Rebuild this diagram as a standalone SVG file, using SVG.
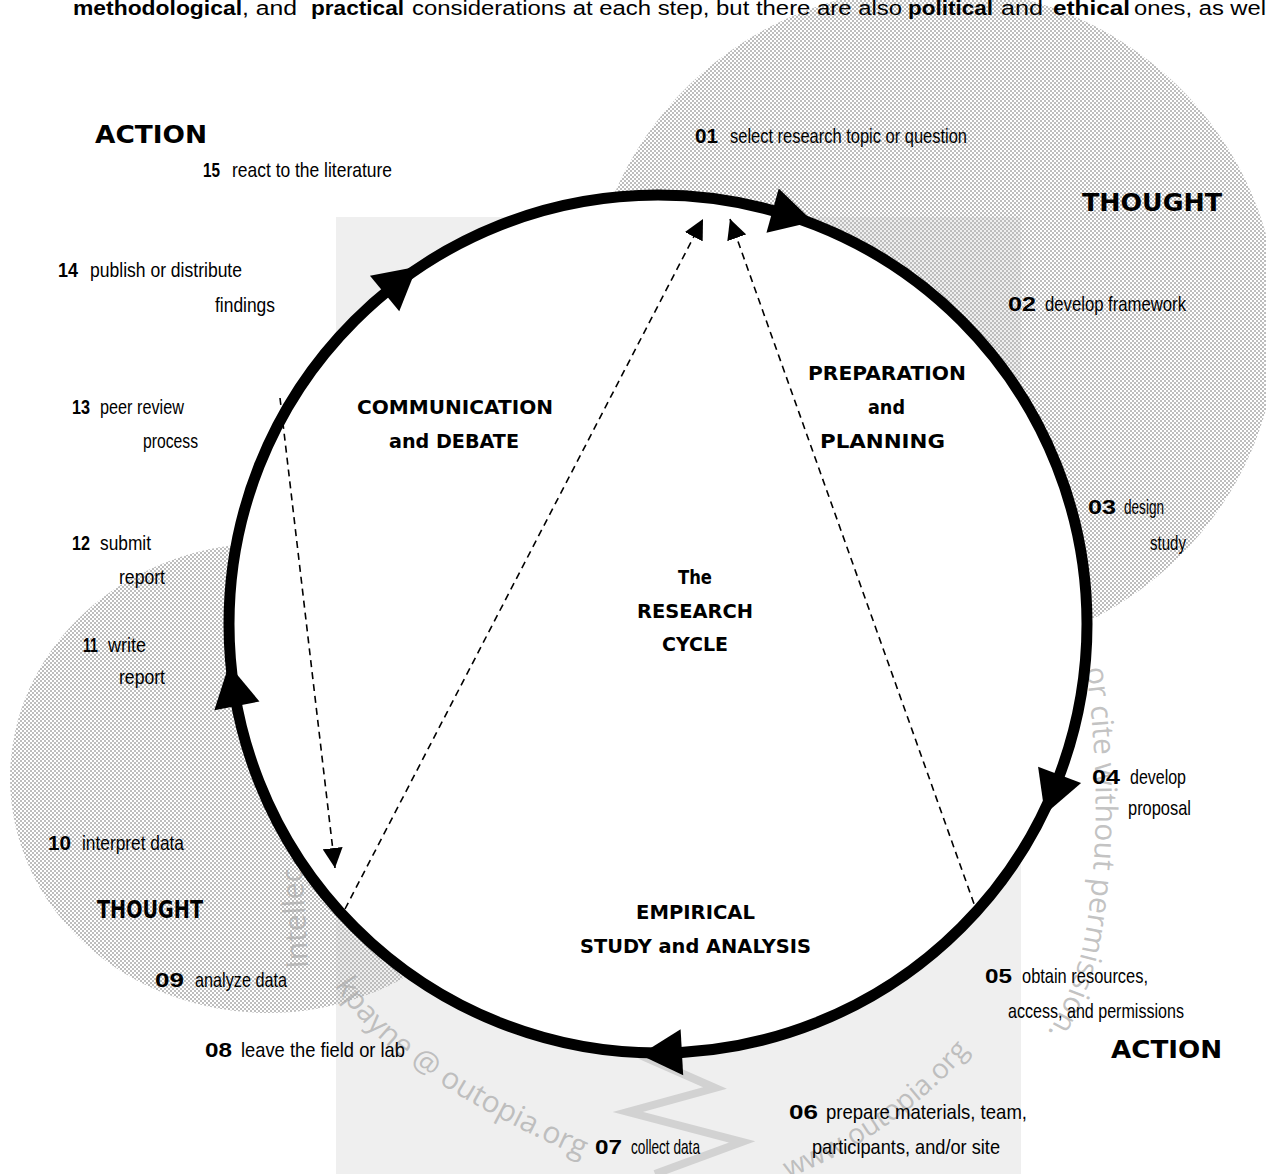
<svg xmlns="http://www.w3.org/2000/svg" width="1266" height="1174" viewBox="0 0 1266 1174">
<defs>
<style>
.lb{font-family:"Liberation Sans Narrow","Liberation Sans",Arial,sans-serif;font-size:21px;fill:#000}
.nb{font-weight:bold}
.hd{font-family:"DejaVu Sans",Verdana,sans-serif;font-size:19px;font-weight:bold;fill:#000}
.big{font-family:"DejaVu Sans",Verdana,sans-serif;font-size:24px;font-weight:bold;fill:#000}
.top{font-family:"Liberation Sans Narrow","Liberation Sans",Arial,sans-serif;font-size:20px;fill:#000}
.b{font-weight:bold}
.wm{font-family:"Open Sans","Liberation Sans",sans-serif;font-size:30px;fill:#a8a8a8;fill-opacity:0.7}
.dash{fill:none;stroke:#000;stroke-width:1.6;stroke-dasharray:7 5}
</style>
<pattern id="chk" width="4" height="4" patternUnits="userSpaceOnUse">
<rect width="2" height="2" fill="#bdbdbd"/>
<rect x="2" y="2" width="2" height="2" fill="#bdbdbd"/>
</pattern>
<path id="bigHead" d="M42,0 L0,-23 L0,23 Z" fill="#000"/>
<marker id="dh" markerWidth="20" markerHeight="20" viewBox="0 0 20 20" refX="20" refY="10" orient="auto" markerUnits="userSpaceOnUse">
<path d="M0,0 L20,10 L0,20 Z" fill="#000"/>
</marker>
<path id="wmA" d="M1086,668 C1098,760 1100,850 1085,935 C1075,990 1050,1040 1010,1080"/>
<path id="wmB" d="M308,968 C306,930 304,890 300,845"/>
<path id="wmC" d="M335,985 C370,1045 450,1100 598,1165"/>
<path id="wmD" d="M788,1178 C860,1150 935,1100 990,1025"/>
</defs>

<rect width="1266" height="1174" fill="#fff"/>

<g id="background">
<rect x="336" y="217" width="685" height="957" fill="#efefef"/>
<ellipse cx="933" cy="322" rx="345" ry="335" fill="url(#chk)"/>
<ellipse cx="268" cy="778" rx="258" ry="235" fill="url(#chk)"/>
<polyline points="640,1055 715,1088 628,1112 742,1142 655,1174" fill="none" stroke="#d2d2d2" stroke-width="8"/>
</g>

<g id="watermark">
<text class="wm"><textPath href="#wmA">or cite without permission.</textPath></text>
<text class="wm"><textPath href="#wmB">Intellec</textPath></text>
<text class="wm"><textPath href="#wmC">kpayne @ outopia.org</textPath></text>
<text class="wm" style="font-size:28px"><textPath href="#wmD">www.outopia.org</textPath></text>
</g>

<g id="top-text">
<text class="top" y="15"><tspan class="b" x="73" textLength="169" lengthAdjust="spacingAndGlyphs">methodological</tspan><tspan x="242" textLength="55" lengthAdjust="spacingAndGlyphs">, and</tspan><tspan class="b" x="311" textLength="93" lengthAdjust="spacingAndGlyphs">practical</tspan><tspan x="412" textLength="490" lengthAdjust="spacingAndGlyphs">considerations at each step, but there are also</tspan><tspan class="b" x="908" textLength="85" lengthAdjust="spacingAndGlyphs">political</tspan><tspan x="1001" textLength="42" lengthAdjust="spacingAndGlyphs">and</tspan><tspan class="b" x="1053" textLength="77" lengthAdjust="spacingAndGlyphs">ethical</tspan><tspan x="1134" textLength="132" lengthAdjust="spacingAndGlyphs">ones, as wel</tspan></text>
</g>

<g id="cycle">
<circle cx="658" cy="624" r="429" fill="#fff" stroke="#000" stroke-width="11"/>
<use href="#bigHead" transform="translate(772.6,210.6) rotate(15.5)"/>
<use href="#bigHead" transform="translate(1059.6,774.9) rotate(110.6)"/>
<use href="#bigHead" transform="translate(681.9,1052.3) rotate(176.8)"/>
<use href="#bigHead" transform="translate(236.9,705.9) rotate(259)"/>
<use href="#bigHead" transform="translate(384.6,293.5) rotate(320.4)"/>
</g>

<g id="connectors">
<line class="dash" x1="280" y1="398" x2="335" y2="868" marker-end="url(#dh)"/>
<line class="dash" x1="345" y1="909" x2="703" y2="219" marker-end="url(#dh)"/>
<line class="dash" x1="978" y1="915" x2="730" y2="219" marker-end="url(#dh)"/>
</g>

<g id="headings">
<text class="big" x="95" y="143" textLength="112" lengthAdjust="spacingAndGlyphs">ACTION</text>
<text class="big" x="1082" y="211" textLength="140" lengthAdjust="spacingAndGlyphs">THOUGHT</text>
<text class="big" x="97" y="918" textLength="106" lengthAdjust="spacingAndGlyphs">THOUGHT</text>
<text class="big" x="1111" y="1058" textLength="111" lengthAdjust="spacingAndGlyphs">ACTION</text>
</g>

<g id="phase-communication">
<text class="hd" x="357" y="414" textLength="196" lengthAdjust="spacingAndGlyphs">COMMUNICATION</text>
<text class="hd" x="389" y="448" textLength="130" lengthAdjust="spacingAndGlyphs">and DEBATE</text>
</g>
<g id="phase-preparation">
<text class="hd" x="808" y="380" textLength="158" lengthAdjust="spacingAndGlyphs">PREPARATION</text>
<text class="hd" x="868" y="414" textLength="37" lengthAdjust="spacingAndGlyphs">and</text>
<text class="hd" x="820" y="448" textLength="125" lengthAdjust="spacingAndGlyphs">PLANNING</text>
</g>
<g id="center-title">
<text class="hd" x="678" y="584" textLength="34" lengthAdjust="spacingAndGlyphs">The</text>
<text class="hd" x="637" y="618" textLength="116" lengthAdjust="spacingAndGlyphs">RESEARCH</text>
<text class="hd" x="662" y="651" textLength="66" lengthAdjust="spacingAndGlyphs">CYCLE</text>
</g>
<g id="phase-empirical">
<text class="hd" x="636" y="919" textLength="119" lengthAdjust="spacingAndGlyphs">EMPIRICAL</text>
<text class="hd" x="580" y="953" textLength="231" lengthAdjust="spacingAndGlyphs">STUDY and ANALYSIS</text>
</g>

<g id="step-01">
<text class="lb" y="143"><tspan class="nb" x="695" textLength="23" lengthAdjust="spacingAndGlyphs">01</tspan><tspan x="730" textLength="237" lengthAdjust="spacingAndGlyphs">select research topic or question</tspan></text>
</g>
<g id="step-02">
<text class="lb" y="311"><tspan class="nb" x="1008" textLength="28" lengthAdjust="spacingAndGlyphs">02</tspan><tspan x="1045" textLength="141" lengthAdjust="spacingAndGlyphs">develop framework</tspan></text>
</g>
<g id="step-03">
<text class="lb" y="514"><tspan class="nb" x="1088" textLength="28" lengthAdjust="spacingAndGlyphs">03</tspan><tspan x="1124" textLength="40" lengthAdjust="spacingAndGlyphs">design</tspan></text>
<text class="lb" x="1150" y="550" textLength="36" lengthAdjust="spacingAndGlyphs">study</text>
</g>
<g id="step-04">
<text class="lb" y="784"><tspan class="nb" x="1092" textLength="28" lengthAdjust="spacingAndGlyphs">04</tspan><tspan x="1130" textLength="56" lengthAdjust="spacingAndGlyphs">develop</tspan></text>
<text class="lb" x="1128" y="815" textLength="63" lengthAdjust="spacingAndGlyphs">proposal</text>
</g>
<g id="step-05">
<text class="lb" y="983"><tspan class="nb" x="985" textLength="27" lengthAdjust="spacingAndGlyphs">05</tspan><tspan x="1022" textLength="126" lengthAdjust="spacingAndGlyphs">obtain resources,</tspan></text>
<text class="lb" x="1008" y="1018" textLength="176" lengthAdjust="spacingAndGlyphs">access, and permissions</text>
</g>
<g id="step-06">
<text class="lb" y="1119"><tspan class="nb" x="789" textLength="29" lengthAdjust="spacingAndGlyphs">06</tspan><tspan x="826" textLength="201" lengthAdjust="spacingAndGlyphs">prepare materials, team,</tspan></text>
<text class="lb" x="812" y="1154" textLength="188" lengthAdjust="spacingAndGlyphs">participants, and/or site</text>
</g>
<g id="step-07">
<text class="lb" y="1154"><tspan class="nb" x="595" textLength="27" lengthAdjust="spacingAndGlyphs">07</tspan><tspan x="631" textLength="69" lengthAdjust="spacingAndGlyphs">collect data</tspan></text>
</g>
<g id="step-08">
<text class="lb" y="1057"><tspan class="nb" x="205" textLength="27" lengthAdjust="spacingAndGlyphs">08</tspan><tspan x="241" textLength="164" lengthAdjust="spacingAndGlyphs">leave the field or lab</tspan></text>
</g>
<g id="step-09">
<text class="lb" y="987"><tspan class="nb" x="155" textLength="29" lengthAdjust="spacingAndGlyphs">09</tspan><tspan x="195" textLength="92" lengthAdjust="spacingAndGlyphs">analyze data</tspan></text>
</g>
<g id="step-10">
<text class="lb" y="850"><tspan class="nb" x="48" textLength="23" lengthAdjust="spacingAndGlyphs">10</tspan><tspan x="82" textLength="102" lengthAdjust="spacingAndGlyphs">interpret data</tspan></text>
</g>
<g id="step-11">
<text class="lb" y="652"><tspan class="nb" x="83" textLength="15" lengthAdjust="spacingAndGlyphs">11</tspan><tspan x="108" textLength="38" lengthAdjust="spacingAndGlyphs">write</tspan></text>
<text class="lb" x="119" y="684" textLength="46" lengthAdjust="spacingAndGlyphs">report</text>
</g>
<g id="step-12">
<text class="lb" y="550"><tspan class="nb" x="72" textLength="18" lengthAdjust="spacingAndGlyphs">12</tspan><tspan x="100" textLength="51" lengthAdjust="spacingAndGlyphs">submit</tspan></text>
<text class="lb" x="119" y="584" textLength="46" lengthAdjust="spacingAndGlyphs">report</text>
</g>
<g id="step-13">
<text class="lb" y="414"><tspan class="nb" x="72" textLength="18" lengthAdjust="spacingAndGlyphs">13</tspan><tspan x="100" textLength="84" lengthAdjust="spacingAndGlyphs">peer review</tspan></text>
<text class="lb" x="143" y="448" textLength="55" lengthAdjust="spacingAndGlyphs">process</text>
</g>
<g id="step-14">
<text class="lb" y="277"><tspan class="nb" x="58" textLength="20" lengthAdjust="spacingAndGlyphs">14</tspan><tspan x="90" textLength="152" lengthAdjust="spacingAndGlyphs">publish or distribute</tspan></text>
<text class="lb" x="215" y="312" textLength="60" lengthAdjust="spacingAndGlyphs">findings</text>
</g>
<g id="step-15">
<text class="lb" y="177"><tspan class="nb" x="203" textLength="17" lengthAdjust="spacingAndGlyphs">15</tspan><tspan x="232" textLength="160" lengthAdjust="spacingAndGlyphs">react to the literature</tspan></text>
</g>
</svg>
